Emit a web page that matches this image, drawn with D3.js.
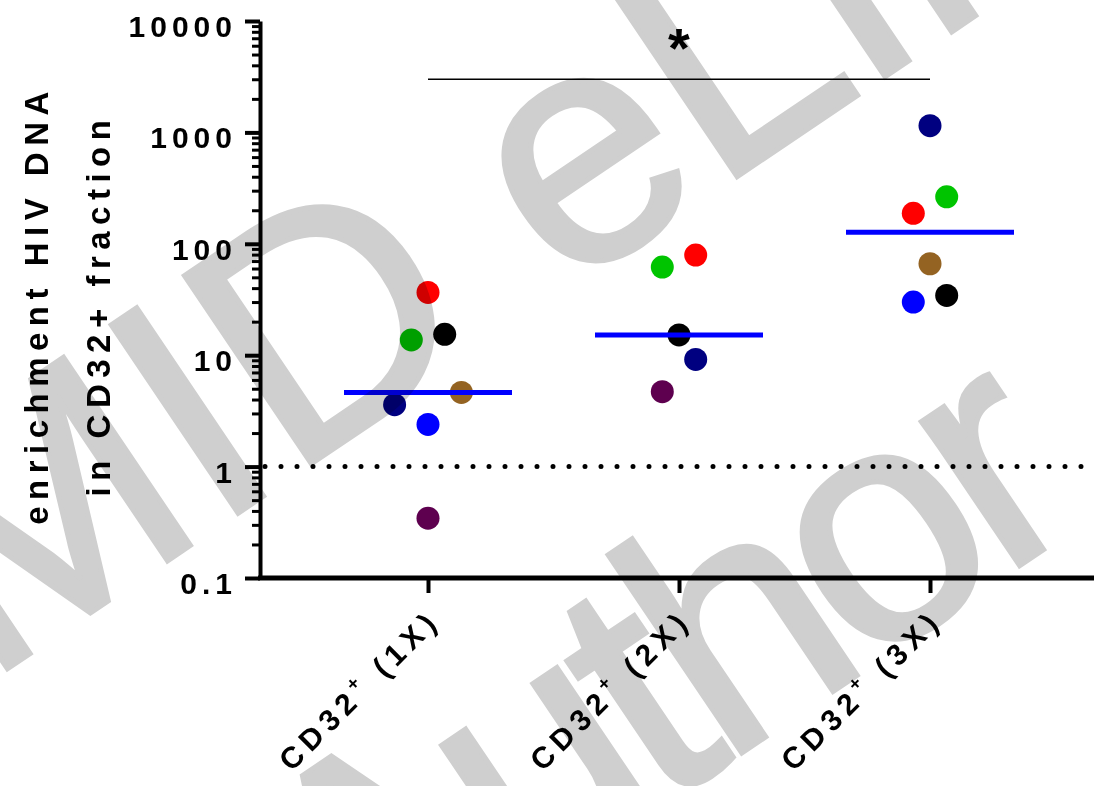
<!DOCTYPE html>
<html lang="en">
<head>
<meta charset="UTF-8">
<title>CD32 enrichment</title>
<script src="https://d3js.org/d3.v7.min.js"></script>
<style>
    body { margin: 0; background: #fff; }
    svg { display: block; }
    .axis path, .axis line { stroke: #000; }
    .axis text, .xlabel, .ytitle, .sig {
        font-family: "Liberation Sans", Arial, sans-serif;
        font-weight: bold;
        fill: #000;
    }
    .axis text { font-size: 30px; letter-spacing: 5px; }
    .xlabel { font-size: 30px; letter-spacing: 6px; white-space: pre; }
    .ytitle { font-size: 33px; letter-spacing: 6.5px; }
    .sig { font-size: 56px; }
    .watermark text {
        font-family: "Liberation Sans", Arial, sans-serif;
        font-size: 330px;
        fill: #cfcfcf;
        stroke: #cfcfcf;
        stroke-width: 5px;
    }
</style>
</head>
<body>
<script>
    const width = 1094;
    const height = 786;

    // groups on the x axis
    const groups = ["1X", "2X", "3X"];

    // one colour per donor, same order in every value array
    const donorColors = ["#ff0000", "#00c400", "#000000", "#946322", "#000080", "#0000ff", "#5e004f"];

    // enrichment of HIV DNA, per donor (null = not measured)
    const enrich1X = [36.6, 13.7, 15.4, 4.63, 3.6, 2.39, 0.344];
    const enrich2X = [79.2, 61.8, 15.2, null, 9.16, null, 4.71];
    const enrich3X = [188, 264, 34.4, 66.2, 1150, 30.0, null];

    // scatter column of each point (GraphPad style spreading)
    const column1X = [0, -1, 1, 2, -2, 0, 0];
    const column2X = [1, -1, 0, null, 1, null, -1];
    const column3X = [-1, 1, 1, 0, 0, -1, null];

    const yTicks = [0.1, 1, 10, 100, 1000, 10000];
    const yTickLabels = ["0.1", "1", "10", "100", "1000", "10000"];
    const yTitle = ["enrichment HIV DNA", "in CD32+ fraction"];
    const sigValue = 3000;
    const sigLabel = "*";
    const watermarkLines = ["MID eLife", "Author"];

    const values = [enrich1X, enrich2X, enrich3X];
    const columns = [column1X, column2X, column3X];

    const plot = {left: 260, right: width, top: 21, bottom: 578};

    const svg = d3.select("body").append("svg")
        .attr("width", width).attr("height", height);

    const y = d3.scaleLog().domain([0.1, 10000]).range([plot.bottom, plot.top]);
    const x = d3.scalePoint().domain(groups).range([428, 930]);

    const dotR = 11.5;
    const colStep = 16.7;
    const medianHalf = 84;

    // reference line at enrichment = 1
    svg.append("line")
        .attr("x1", plot.left + 5).attr("x2", plot.right)
        .attr("y1", y(1)).attr("y2", y(1))
        .attr("stroke", "#000").attr("stroke-width", 5)
        .attr("stroke-linecap", "round")
        .attr("stroke-dasharray", "0 16");

    // points
    const points = [];
    groups.forEach((g, gi) => {
        values[gi].forEach((v, i) => {
            if (v == null) return;
            points.push({group: g, value: v, color: donorColors[i], col: columns[gi][i]});
        });
    });

    svg.append("g").selectAll("circle")
        .data(points)
        .join("circle")
        .attr("cx", d => x(d.group) + d.col * colStep)
        .attr("cy", d => y(d.value))
        .attr("r", dotR)
        .attr("fill", d => d.color);

    // medians
    svg.append("g").selectAll("line")
        .data(groups)
        .join("line")
        .attr("x1", d => x(d) - medianHalf)
        .attr("x2", d => x(d) + medianHalf)
        .attr("y1", (d, i) => y(d3.median(values[i].filter(v => v != null))))
        .attr("y2", (d, i) => y(d3.median(values[i].filter(v => v != null))))
        .attr("stroke", "#0000ff").attr("stroke-width", 5);

    // significance bracket
    svg.append("line")
        .attr("x1", x(groups[0])).attr("x2", x(groups[2]))
        .attr("y1", y(sigValue)).attr("y2", y(sigValue))
        .attr("stroke", "#000").attr("stroke-width", 1.5);
    svg.append("text")
        .attr("class", "sig")
        .attr("x", x(groups[1]))
        .attr("y", y(sigValue) - 12)
        .attr("text-anchor", "middle")
        .text(sigLabel);

    // y axis, major and minor ticks
    const yAxis = d3.axisLeft(y)
        .tickValues(yTicks)
        .tickFormat((d, i) => yTickLabels[i])
        .tickSize(15).tickSizeOuter(0).tickPadding(8);
    const gy = svg.append("g").attr("class", "axis")
        .attr("transform", `translate(${plot.left},0)`)
        .call(yAxis);
    gy.select(".domain").attr("stroke-width", 4);
    gy.selectAll(".tick line").attr("stroke-width", 4);
    gy.selectAll(".tick text").attr("dy", 15.5);

    const minorTicks = [];
    yTicks.slice(0, -1).forEach(t => {
        for (let k = 2; k <= 9; k++) minorTicks.push(t * k);
    });
    const gyMinor = svg.append("g").attr("class", "axis")
        .attr("transform", `translate(${plot.left},0)`)
        .call(d3.axisLeft(y).tickValues(minorTicks).tickSize(8).tickFormat(""));
    gyMinor.select(".domain").remove();
    gyMinor.selectAll(".tick line").attr("stroke-width", 3);

    // x axis
    svg.append("line")
        .attr("x1", plot.left - 2).attr("x2", plot.right)
        .attr("y1", plot.bottom).attr("y2", plot.bottom)
        .attr("stroke", "#000").attr("stroke-width", 5);
    const gx = svg.append("g").attr("class", "axis")
        .attr("transform", `translate(0,${plot.bottom})`)
        .call(d3.axisBottom(x).tickSize(15).tickSizeOuter(0).tickFormat(""));
    gx.select(".domain").remove();
    gx.selectAll(".tick line").attr("stroke-width", 4);

    const xl = svg.append("g").selectAll("text")
        .data(groups)
        .join("text")
        .attr("class", "xlabel")
        .attr("text-anchor", "end")
        .attr("transform", d => `translate(${x(d) + 14},${plot.bottom + 44}) rotate(-45)`);
    xl.append("tspan").text("CD32");
    xl.append("tspan").attr("dy", -13).attr("font-size", 19).text("+");
    xl.append("tspan").attr("dy", 13).text(d => ` (${d})`);

    // y title
    svg.append("g").selectAll("text")
        .data(yTitle)
        .join("text")
        .attr("class", "ytitle")
        .attr("text-anchor", "middle")
        .attr("transform", (d, i) => `translate(${48 + i * 62},305) rotate(-90)`)
        .text(d => d);

    // grey watermark on top, multiplied
    const wmOrigins = [[-15, 684], [352, 1016]];
    const wmSpacing = [0, -16];
    svg.append("g").attr("class", "watermark")
        .style("mix-blend-mode", "multiply")
        .selectAll("text")
        .data(watermarkLines)
        .join("text")
        .attr("letter-spacing", (d, i) => wmSpacing[i])
        .attr("transform", (d, i) => `translate(${wmOrigins[i][0]},${wmOrigins[i][1]}) rotate(-34)`)
        .text(d => d);
</script>
</body>
</html>
